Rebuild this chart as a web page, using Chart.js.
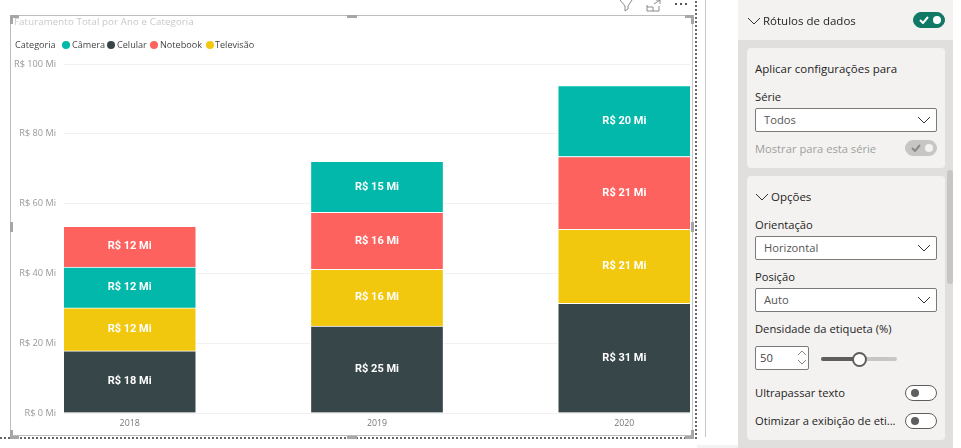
<!DOCTYPE html>
<html lang="pt-BR">
<head>
<meta charset="utf-8">
<title>Faturamento Total por Ano e Categoria</title>
<script src="https://cdn.jsdelivr.net/npm/chart.js@4"></script>
<style>
  html, body { margin: 0; padding: 0; background: #fff; overflow: hidden; }
  body { width: 961px; height: 448px; position: relative; font-family: 'Open Sans', 'Noto Sans', sans-serif; font-size: 11.2px; color: #252423; }
  .abs { position: absolute; white-space: nowrap; line-height: 16px; }
  #chart-wrap { position: absolute; left: 0; top: 0; width: 700px; height: 440px; }

  /* visual frame */
  .frame { position: absolute; left: 10px; top: 15px; width: 681px; height: 419px; border: 1px solid #bdbdbd; border-right-color: #c8c8c8; }
  .dots-b { position: absolute; left: 0; top: 437px; width: 696px; height: 2px; background: repeating-linear-gradient(90deg, #666 0 2px, #fff 2px 4px); }
  .dots-r { position: absolute; left: 695px; top: 0; width: 2px; height: 439px; background: repeating-linear-gradient(0deg, #666 0 2px, #fff 2px 4px); }
  .handle { position: absolute; background: #a6a6a6; }
  #title { left: 14px; top: 14px; font-size: 9.6px; color: #c8c8c8; letter-spacing: .15px; }
  #legend { position: absolute; left: 15px; top: 37px; height: 16px; }
  #legend span { position: absolute; top: 0; line-height: 16px; font-size: 9.1px; color: #444; white-space: nowrap; }
  #legend i { position: absolute; top: 4px; width: 8px; height: 8px; border-radius: 50%; }

  /* format pane */
  .pane { position: absolute; left: 738px; top: 0; width: 215px; height: 448px; background: #f3f2f1; }
  .pane-bg { position: absolute; left: 738px; top: 40px; width: 215px; height: 408px; background: #e1dfdd; }
  .card { position: absolute; left: 747px; width: 198px; background: #f3f2f1; border-radius: 4px; }
  .select { position: absolute; left: 755px; width: 180px; height: 22px; background: #fff; border: 1px solid #7a7a7a; border-radius: 2px; }
  .select b { position: absolute; left: 8px; top: 3px; font-weight: 400; line-height: 16px; color: #555; }
  .chev { position: absolute; width: 12px; height: 7px; }
  .head { font-size: 11.5px; font-weight: 500; }
  .toggle { position: absolute; width: 30px; height: 14px; border: 1px solid #605e5c; border-radius: 8px; background: #fff; }
  .toggle::after { content: ''; position: absolute; left: 5px; top: 3px; width: 8px; height: 8px; border-radius: 50%; background: #605e5c; }
  .toggle.on { border-color: #117865; background: #117865; }
  .toggle.on::after { left: 19px; background: #fff; }
  .toggle.off { border-color: #c8c6c4; background: #c8c6c4; }
  .toggle.off::after { left: 19px; background: #f3f2f1; }
  .check { position: absolute; left: 5px; top: 3px; width: 10px; height: 8px; }
</style>
</head>
<body>
<div id="chart-wrap"><canvas id="chart"></canvas></div>

<div class="frame"></div>
<div class="dots-b"></div>
<div class="dots-r"></div>
<div class="handle" style="left:10px;top:15px;width:9px;height:3px"></div>
<div class="handle" style="left:10px;top:15px;width:3px;height:9px"></div>
<div class="handle" style="left:10px;top:430px;width:3px;height:9px"></div>
<div class="handle" style="left:10px;top:436px;width:9px;height:3px"></div>
<div class="handle" style="left:685px;top:15px;width:9px;height:3px"></div>
<div class="handle" style="left:691px;top:15px;width:3px;height:9px"></div>
<div class="handle" style="left:691px;top:430px;width:3px;height:9px"></div>
<div class="handle" style="left:685px;top:436px;width:9px;height:3px"></div>
<div class="handle" style="left:347px;top:15px;width:10px;height:3px"></div>
<div class="handle" style="left:347px;top:436px;width:10px;height:3px"></div>
<div class="handle" style="left:10px;top:222px;width:3px;height:10px"></div>
<div class="handle" style="left:691px;top:222px;width:3px;height:10px"></div>

<svg class="abs" style="left:618px;top:0" width="72" height="12" fill="none" stroke="#8a8a8a">
  <path d="M2 0 L7 6 V11 L10 9 V6 L14 0"/>
  <path d="M29 5 V11 H41 V6 M29 7 H35 V11 M36 4 L42 0 M38 0 H42 V4"/>
  <path d="M57 4 h2 M62 4 h2 M67 4 h2" stroke="#555" stroke-width="2"/>
</svg>

<div class="abs" id="title">Faturamento Total por Ano e Categoria</div>
<div id="legend"></div>

<div class="abs" style="left:705px;top:0;width:1px;height:437px;background:#c8c8c8"></div>
<div class="abs" style="left:697px;top:445px;width:41px;height:3px;background:#f3f2f1"></div>

<div class="pane"></div>
<div class="pane-bg"></div>
<svg class="chev" style="left:748px;top:18px" viewBox="0 0 12 7" fill="none" stroke="#333"><path d="M0 0 L6 6 L12 0"/></svg>
<div class="abs head" style="left:763px;top:13px">Rótulos de dados</div>
<div class="toggle on" style="left:913px;top:12px">
  <svg class="check" viewBox="0 0 10 8" fill="none" stroke="#fff" stroke-width="2"><path d="M1 4 L4 7 L9 1"/></svg>
</div>

<div class="card" style="top:48px;height:120px"></div>
<div class="abs head" style="left:755px;top:61px">Aplicar configurações para</div>
<div class="abs" style="left:755px;top:89px">Série</div>
<div class="select" style="top:108px"><b>Todos</b></div>
<svg class="chev" style="left:918px;top:117px" viewBox="0 0 12 7" fill="none" stroke="#333"><path d="M0 0 L6 6 L12 0"/></svg>
<div class="abs" style="left:755px;top:141px;color:#a19f9d">Mostrar para esta série</div>
<div class="toggle off" style="left:905px;top:140px">
  <svg class="check" viewBox="0 0 10 8" fill="none" stroke="#8a8886" stroke-width="2"><path d="M1 4 L4 7 L9 1"/></svg>
</div>

<div class="card" style="top:176px;height:264px"></div>
<svg class="chev" style="left:756px;top:194px" viewBox="0 0 12 7" fill="none" stroke="#333"><path d="M0 0 L6 6 L12 0"/></svg>
<div class="abs head" style="left:771px;top:189px">Opções</div>
<div class="abs" style="left:755px;top:217px">Orientação</div>
<div class="select" style="top:236px"><b>Horizontal</b></div>
<svg class="chev" style="left:918px;top:245px" viewBox="0 0 12 7" fill="none" stroke="#333"><path d="M0 0 L6 6 L12 0"/></svg>
<div class="abs" style="left:755px;top:269px">Posição</div>
<div class="select" style="top:288px"><b>Auto</b></div>
<svg class="chev" style="left:918px;top:297px" viewBox="0 0 12 7" fill="none" stroke="#333"><path d="M0 0 L6 6 L12 0"/></svg>
<div class="abs" style="left:755px;top:321px">Densidade da etiqueta (%)</div>
<div class="abs" style="left:755px;top:346px;width:52px;height:22px;background:#fff;border:1px solid #7a7a7a;border-radius:2px"></div>
<div class="abs" style="left:760px;top:350px;color:#444">50</div>
<svg class="abs" style="left:797px;top:350px" width="10" height="16" fill="none" stroke="#8a8886"><path d="M1 5 L5 1 L9 5 M1 10 L5 14 L9 10"/></svg>
<div class="abs" style="left:821px;top:357px;width:76px;height:4px;background:#c8c6c4;border-radius:2px"></div>
<div class="abs" style="left:821px;top:357px;width:38px;height:4px;background:#605e5c;border-radius:2px"></div>
<div class="abs" style="left:852px;top:352px;width:11px;height:11px;background:#fff;border:2px solid #605e5c;border-radius:50%"></div>
<div class="abs" style="left:755px;top:385px">Ultrapassar texto</div>
<div class="toggle" style="left:905px;top:385px"></div>
<div class="abs" style="left:755px;top:413px">Otimizar a exibição de eti...</div>
<div class="toggle" style="left:905px;top:413px"></div>
<div class="abs" style="left:947px;top:170px;width:6px;height:114px;background:#c8c6c4;border-radius:3px"></div>

<script>
  'use strict';

  const years = [2018, 2019, 2020];

  // Values in R$ millions
  const celular   = [17.8, 24.9, 31.4];
  const televisao = [12.3, 16.3, 21.2];
  const notebook  = [11.7, 16.3, 20.9];
  const camera    = [11.7, 14.6, 20.3];

  const yTicks = [0, 20, 40, 60, 80, 100];

  const legendNames  = ['Câmera', 'Celular', 'Notebook', 'Televisão'];
  const legendColors = ['#01b8aa', '#374649', '#fd625e', '#f2c80f'];

  const COLORS = { camera: '#01b8aa', celular: '#374649', notebook: '#fd625e', televisao: '#f2c80f' };

  // Each year is sorted by value, so Câmera sits under Notebook in 2018 and on top after that
  const cameraLow  = camera.map(function (v, i) { return i === 0 ? v : null; });
  const cameraHigh = camera.map(function (v, i) { return i === 0 ? null : v; });

  function barSet(label, data, color) {
    return { label: label, data: data, backgroundColor: color, borderColor: '#fff', borderWidth: 1, stack: 'total', barThickness: 133 };
  }

  // Legend sits inline with its "Categoria" title, which Chart.js legends can't do
  function buildLegend() {
    const box = document.getElementById('legend');
    const textX = [57, 102, 145, 200];
    const dotX  = [47, 92, 135, 191];
    box.innerHTML = '<span style="left:0">Categoria</span>';
    legendNames.forEach(function (name, i) {
      box.innerHTML += '<i style="left:' + dotX[i] + 'px;background:' + legendColors[i] + '"></i>' +
        '<span style="left:' + textX[i] + 'px">' + name + '</span>';
    });
  }

  // White "R$ 18 Mi" labels in the middle of each segment
  const segmentLabels = {
    id: 'segmentLabels',
    afterDatasetsDraw: function (chart) {
      const ctx = chart.ctx;
      ctx.save();
      ctx.font = "700 11px Roboto, sans-serif";
      ctx.fillStyle = '#fff';
      ctx.textAlign = 'center';
      ctx.textBaseline = 'middle';
      chart.data.datasets.forEach(function (ds, d) {
        chart.getDatasetMeta(d).data.forEach(function (bar, i) {
          if (ds.data[i] === null) return;
          const p = bar.getProps(['x', 'y', 'base'], true);
          ctx.fillText('R$ ' + Math.round(ds.data[i]) + ' Mi', p.x, (p.y + p.base) / 2);
        });
      });
      ctx.restore();
    }
  };

  buildLegend();

  new Chart(document.getElementById('chart'), {
    type: 'bar',
    data: {
      labels: years,
      datasets: [
        barSet('Celular', celular, COLORS.celular),
        barSet('Televisão', televisao, COLORS.televisao),
        barSet('Câmera', cameraLow, COLORS.camera),
        barSet('Notebook', notebook, COLORS.notebook),
        barSet('Câmera', cameraHigh, COLORS.camera)
      ]
    },
    options: {
      responsive: true,
      maintainAspectRatio: false,
      animation: false,
      layout: { padding: { left: 0, top: 64, right: 10, bottom: 0 } },
      plugins: { legend: { display: false }, tooltip: { enabled: false } },
      scales: {
        // Linear so the outer bars can touch the plot edges as they do in Power BI
        x: {
          type: 'linear',
          offset: false,
          stacked: true,
          min: 2017.7345,
          max: 2020.2655,
          grid: { display: false, drawTicks: false },
          border: { display: false },
          afterFit: function (scale) { scale.height = 27; },
          afterBuildTicks: function (scale) {
            scale.ticks = years.map(function (y) { return { value: y }; });
          },
          ticks: {
            autoSkip: false,
            maxRotation: 0,
            padding: 5,
            color: '#777',
            font: { family: "'Open Sans', sans-serif", size: 8.8 },
            callback: function (v) { return String(v); }
          }
        },
        y: {
          stacked: true,
          min: 0,
          max: 100,
          grid: { color: '#f1f1f1', drawTicks: false },
          border: { display: false },
          afterFit: function (scale) { scale.width = 64; },
          afterBuildTicks: function (scale) {
            scale.ticks = yTicks.map(function (v) { return { value: v }; });
          },
          ticks: {
            padding: 8,
            color: '#999',
            font: { family: "'Open Sans', sans-serif", size: 9.2 },
            callback: function (v) { return 'R$ ' + v + ' Mi'; }
          }
        }
      }
    },
    plugins: [segmentLabels]
  });
</script>
</body>
</html>
